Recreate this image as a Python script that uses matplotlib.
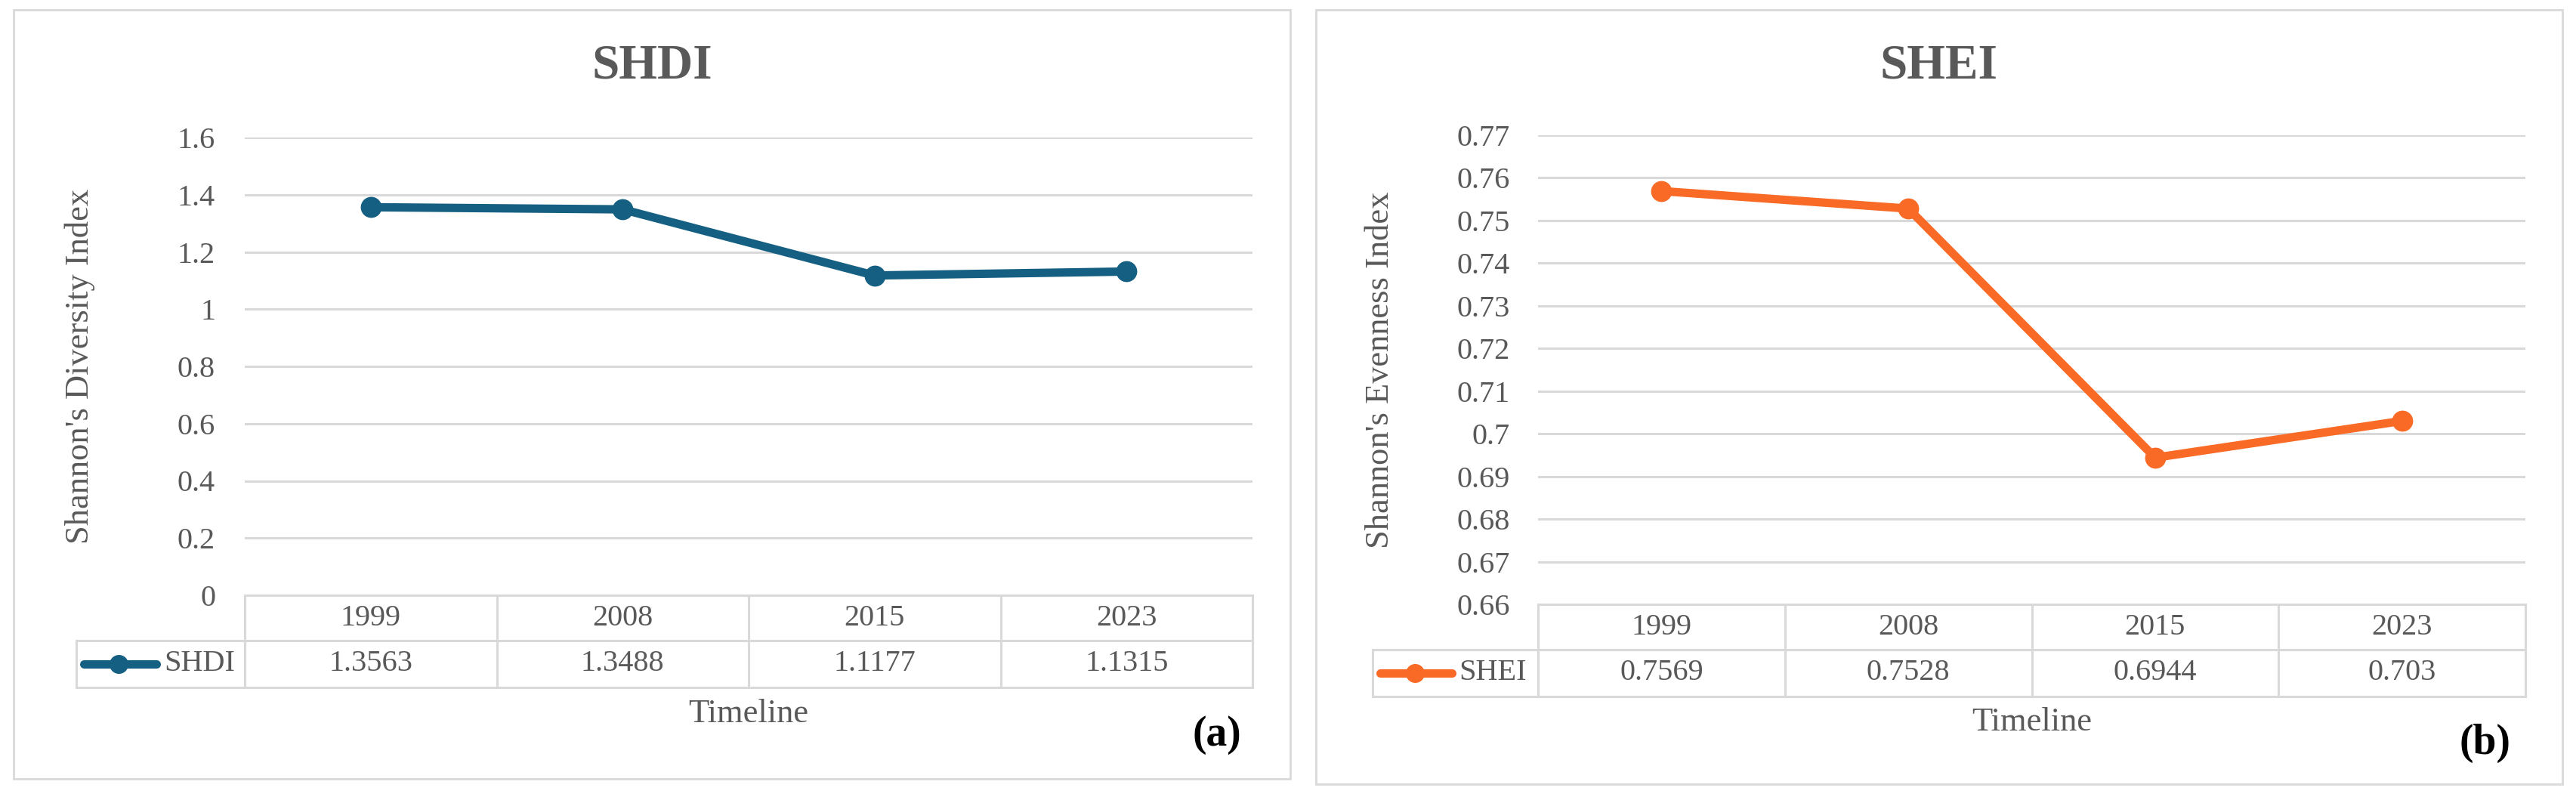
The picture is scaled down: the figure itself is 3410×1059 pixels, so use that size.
import matplotlib
matplotlib.use("Agg")
import matplotlib.pyplot as plt
import matplotlib.transforms as mtransforms
from matplotlib.lines import Line2D
from matplotlib.patches import Rectangle

# data
years = ['1999', '2008', '2015', '2023']
shdi = [1.3563, 1.3488, 1.1177, 1.1315]
shei = [0.7569, 0.7528, 0.6944, 0.703]
shdi_ticks = [0, 0.2, 0.4, 0.6, 0.8, 1.0, 1.2, 1.4, 1.6]
shdi_tick_labels = ['0', '0.2', '0.4', '0.6', '0.8', '1', '1.2', '1.4', '1.6']
shei_ticks = [0.66, 0.67, 0.68, 0.69, 0.70, 0.71, 0.72, 0.73, 0.74, 0.75, 0.76, 0.77]
shei_tick_labels = ['0.66', '0.67', '0.68', '0.69', '0.7', '0.71', '0.72',
                    '0.73', '0.74', '0.75', '0.76', '0.77']
table_vals_shdi = ['1.3563', '1.3488', '1.1177', '1.1315']
table_vals_shei = ['0.7569', '0.7528', '0.6944', '0.703']

W, H = 3410, 1059
GRID = '#D9D9D9'
TXT = '#595959'
FONT = 'Liberation Serif'
plt.rcParams['font.family'] = [FONT, 'DejaVu Serif']

fig = plt.figure(figsize=(W / 100, H / 100), dpi=100)


def px_rect(x0, y0, x1, y1):
    return [x0 / W, 1 - y1 / H, (x1 - x0) / W, (y1 - y0) / H]


def panel(box, plot, vals, tvals, name, color, ticks, tlabels, ylabel,
          ylab_x, tl_y, letter, letter_xy, pad):
    # chart border
    x0, y0, x1, y1 = box
    fig.patches.append(Rectangle((x0 / W, 1 - y1 / H), (x1 - x0) / W, (y1 - y0) / H,
                                 transform=fig.transFigure, fill=False,
                                 edgecolor=GRID, lw=2))
    ax = fig.add_axes(px_rect(*plot))
    x = list(range(len(years)))
    ax.plot(x, vals, color=color, lw=8, marker='o', markersize=19,
            solid_capstyle='round', solid_joinstyle='round', zorder=3)
    ax.set_xlim(-0.5, len(years) - 0.5)
    ax.set_ylim(ticks[0], ticks[-1])
    ax.set_yticks(ticks)
    ax.set_yticklabels(tlabels)
    ax.set_xticks([])
    ax.tick_params(axis='y', length=0, pad=pad, labelsize=29, labelcolor=TXT)
    ax.yaxis.grid(True, color=GRID, lw=2.2)
    ax.set_axisbelow(True)
    for s in ax.spines.values():
        s.set_visible(False)

    # data table under the axis
    pl_h = plot[3] - plot[1]
    h1 = 60 / pl_h
    h2 = 62 / pl_h
    leg_left = -1.17
    tr = mtransforms.blended_transform_factory(ax.transData, ax.transAxes)
    n = len(years)
    kw = dict(color=GRID, lw=2.2, transform=tr, clip_on=False)
    ax.add_line(Line2D([-0.5, n - 0.5], [0, 0], **kw))
    ax.add_line(Line2D([leg_left, n - 0.5], [-h1, -h1], **kw))
    ax.add_line(Line2D([leg_left, n - 0.5], [-h1 - h2, -h1 - h2], **kw))
    for i in range(n + 1):
        ax.add_line(Line2D([i - 0.5, i - 0.5], [0, -h1 - h2], **kw))
    ax.add_line(Line2D([leg_left, leg_left], [-h1, -h1 - h2], **kw))
    for i in range(n):
        ax.text(i, -h1 / 2, years[i], transform=tr, ha='center', va='center',
                fontsize=29, color=TXT)
        ax.text(i, -h1 - h2 / 2, tvals[i], transform=tr, ha='center', va='center',
                fontsize=29, color=TXT)
    yl = -h1 - h2 / 2
    ax.add_line(Line2D([-1.14, -0.85], [yl, yl], color=color, lw=8,
                       solid_capstyle='round', transform=tr, clip_on=False))
    ax.add_line(Line2D([-1.0], [yl], color=color, marker='o', markersize=17,
                       transform=tr, clip_on=False))
    ax.text(-0.82, yl, name, transform=tr, ha='left', va='center',
            fontsize=29, color=TXT)

    # titles and labels
    cx = (x0 + x1) / 2
    fig.text(cx / W, 1 - 88 / H, name, ha='center', va='center',
             fontsize=47, fontweight='bold', color=TXT)
    pcx = (plot[0] + plot[2]) / 2
    pcy = (plot[1] + plot[3]) / 2
    fig.text(ylab_x / W, 1 - pcy / H, ylabel, rotation=90, ha='center',
             va='center', fontsize=32, color=TXT)
    fig.text(pcx / W, 1 - tl_y / H, 'Timeline', ha='center', va='center',
             fontsize=32, color=TXT)
    fig.text(letter_xy[0] / W, 1 - letter_xy[1] / H, letter, ha='center',
             va='center', fontsize=40, fontweight='bold', color='black')
    return ax


panel((18, 13, 1708, 1031), (324, 182, 1658, 788), shdi, table_vals_shdi,
      'SHDI', '#156082', shdi_ticks, shdi_tick_labels,
      "Shannon's Diversity Index", 106, 945, '(a)', (1611, 973), 28)

panel((1742, 13, 3392, 1038), (2036, 179, 3343, 800), shei, table_vals_shei,
      'SHEI', '#F96A26', shei_ticks, shei_tick_labels,
      "Shannon's Evenness Index", 1827, 956, '(b)', (3290, 984), 27)

fig.savefig('out.png', dpi=100, facecolor='white')
